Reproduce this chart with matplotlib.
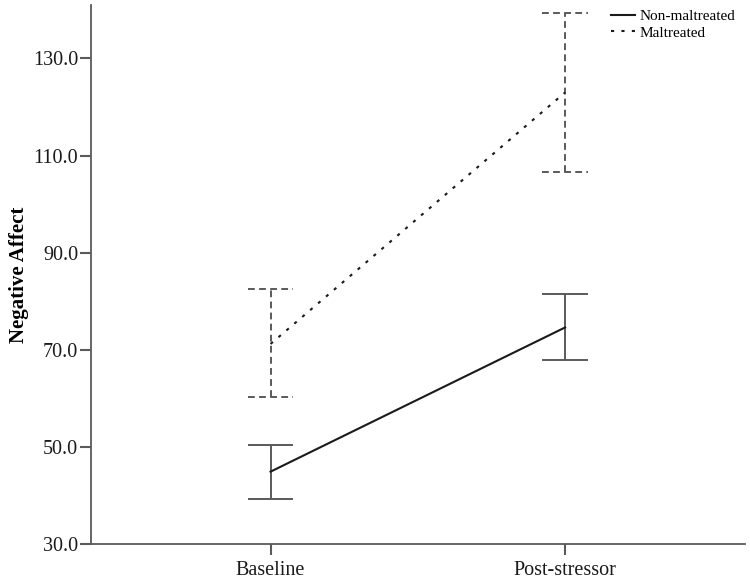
import matplotlib
matplotlib.use('Agg')
from matplotlib import pyplot as plt
import numpy as np

# Data
conditions = ['Baseline', 'Post-stressor']
non_mean = [44.9, 74.6]
non_low = [39.2, 67.8]
non_high = [50.3, 81.5]
mal_mean = [71.2, 123.0]
mal_low = [60.2, 106.6]
mal_high = [82.5, 139.4]
y_ticks = [30, 50, 70, 90, 110, 130]

CAP = 0.077
GREY = '#5a5a5a'

plt.rcParams['font.family'] = ['Liberation Serif', 'DejaVu Serif']

fig = plt.figure(figsize=(7.5, 5.82), dpi=100)
ax = fig.add_axes([0.121, 0.0653, 0.8724, 0.926])

x = np.arange(len(conditions))

# error bars, non-maltreated (solid)
ax.vlines(x, non_low, non_high, color=GREY, lw=1.4)
ax.hlines(non_low, x - CAP, x + CAP, color=GREY, lw=1.4)
ax.hlines(non_high, x - CAP, x + CAP, color=GREY, lw=1.4)

# error bars, maltreated (dashed)
dash = (0, (3.5, 2.2))
ax.vlines(x, mal_low, mal_high, color=GREY, lw=1.4, linestyles=[dash])
ax.hlines(mal_low, x - CAP, x + CAP, color=GREY, lw=1.4, linestyles=[dash])
ax.hlines(mal_high, x - CAP, x + CAP, color=GREY, lw=1.4, linestyles=[dash])

# means
ax.plot(x, non_mean, color='#1a1a1a', lw=1.5, label='Non-maltreated')
ax.plot(x, mal_mean, color='#1a1a1a', lw=1.5, linestyle=(0, (1.5, 3.5)),
        label='Maltreated')

ax.set_xlim(-0.6105, 1.611)
ax.set_ylim(30, 141)
ax.set_xticks(x)
ax.set_xticklabels(conditions, fontsize=14.5)
ax.set_yticks(y_ticks)
ax.set_yticklabels(['%.1f' % v for v in y_ticks], fontsize=14.5)
ax.set_ylabel('Negative Affect', fontsize=15, fontweight='bold', labelpad=3)

for side in ['top', 'right']:
    ax.spines[side].set_visible(False)
for side in ['left', 'bottom']:
    ax.spines[side].set_color(GREY)
    ax.spines[side].set_linewidth(1.3)
ax.tick_params(axis='y', direction='out', length=8, width=1.5, color=GREY,
               labelcolor='#1a1a1a', pad=1)
ax.tick_params(axis='x', direction='out', length=8, width=1.5, color=GREY,
               labelcolor='#1a1a1a', pad=4)

leg = ax.legend(loc='upper left', bbox_to_anchor=(0.795, 0.992),
                frameon=False, fontsize=11,
                handlelength=1.6, handletextpad=0.25, labelspacing=0.2,
                borderaxespad=0.0, borderpad=0.0)

fig.savefig('out.png', dpi=100)
